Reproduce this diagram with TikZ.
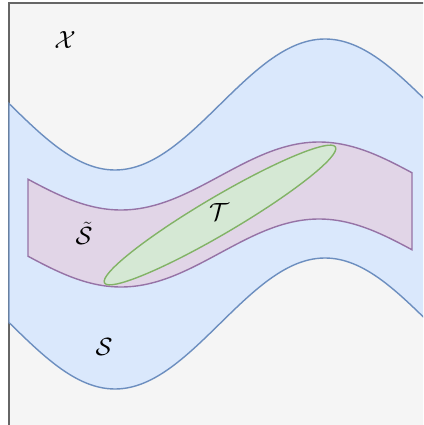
\documentclass[tikz,border=0pt]{standalone}
\usepackage{amsmath}
\begin{document}
\begin{tikzpicture}[x=1pt,y=-1pt,
  framebox/.style={fill=bgcol,draw=framecol,line width=1.8pt},
  blueband/.style={fill=bluefill,draw=bluestroke,line width=1.4pt},
  purpleband/.style={fill=purplefill,draw=purplestroke,line width=1.4pt},
  greenell/.style={fill=greenfill,draw=greenstroke,line width=1.4pt},
  lbl/.style={inner sep=0pt,font=\fontsize{33}{36}\selectfont}]
\definecolor{bgcol}{HTML}{F5F5F5}
\definecolor{framecol}{HTML}{666666}
\definecolor{bluefill}{HTML}{DAE8FC}
\definecolor{bluestroke}{HTML}{6C8EBF}
\definecolor{purplefill}{HTML}{E1D5E7}
\definecolor{purplestroke}{HTML}{9673A6}
\definecolor{greenfill}{HTML}{D5E8D4}
\definecolor{greenstroke}{HTML}{82B366}
\useasboundingbox (0,0) rectangle (423,425);
\clip (0,0) rectangle (423,425);
% frame
\draw[framebox] (8.8,2.8) rectangle (450,430);
% blue band S
\draw[blueband]
  plot[domain=9:445,samples=120] (\x,{104.5+65.5*cos(0.857143*(\x-115))})
  -- plot[domain=445:9,samples=120] (\x,{323.5+65.5*cos(0.857143*(\x-115))})
  -- cycle;
% purple band S tilde
\draw[purpleband]
  plot[domain=28:412,samples=100] (\x,{176+34*cos(0.909091*(\x-121))})
  -- plot[domain=412:28,samples=100] (\x,{253+34*cos(0.909091*(\x-121))})
  -- cycle;
% green ellipse T
\draw[greenell] (220,215) ellipse[x radius=134,y radius=18.5,rotate=30.5];
% labels
\node[lbl] (X) at (65,40) {$\mathcal{X}$};
\node[lbl] (St) at (84,233) {$\tilde{\mathcal{S}}$};
\node[lbl] (T) at (219,212) {$\mathcal{T}$};
\node[lbl] (S) at (104,347) {$\mathcal{S}$};
\end{tikzpicture}
\end{document}
